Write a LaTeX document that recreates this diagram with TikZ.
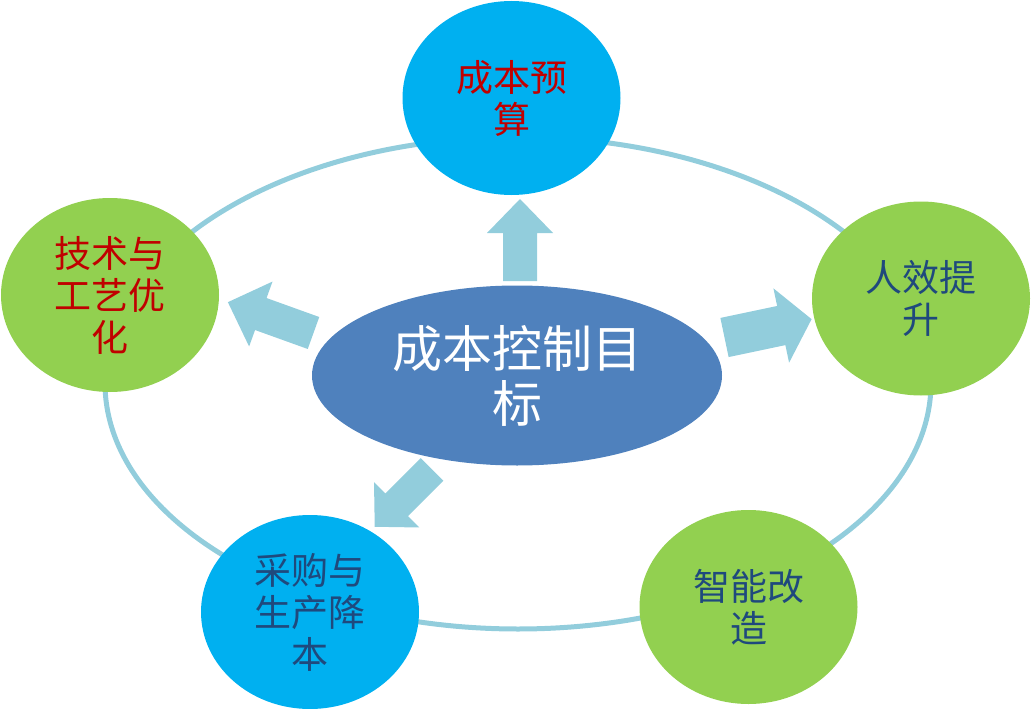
\documentclass[tikz,border=0pt]{standalone}
\usepackage{fontspec}
\usetikzlibrary{shapes.geometric}
\setmainfont{Noto Sans CJK SC}
\definecolor{ringc}{HTML}{92CDDC}
\definecolor{cyanc}{HTML}{00B0F0}
\definecolor{greenc}{HTML}{92D050}
\definecolor{centerc}{HTML}{4F81BD}
\definecolor{redt}{HTML}{C00000}
\definecolor{bluet}{HTML}{1F497D}
\begin{document}
\begin{tikzpicture}[x=1pt,y=-1pt,
  bubble/.style={ellipse,minimum width=218pt,minimum height=194pt,inner sep=0pt,align=center,
    font=\fontsize{37}{42}\selectfont},
  cyanb/.style={bubble,fill=cyanc},
  greenb/.style={bubble,fill=greenc},
  blockarrow/.style={fill=ringc,draw=none}]
\useasboundingbox (0,0) rectangle (1031,709);
% ring
\coordinate (ringc) at (518,383);
\draw[ringc,line width=5pt] (ringc) ellipse [x radius=413, y radius=246];
% outer bubbles
\node[cyanb,text=redt] (top) at (511.5,98) {成本预\\算};
\node[greenb,text=redt] (left) at (110,295) {技术与\\工艺优\\化};
\node[greenb,text=bluet] (right) at (921,298.5) {人效提\\升};
\node[greenb,text=bluet] (br) at (748.5,607) {智能改\\造};
\node[cyanb,text=bluet] (bl) at (310,612) {采购与\\生产降\\本};
% center
\node[ellipse,fill=centerc,minimum width=410pt,minimum height=180pt,inner sep=0pt,align=center,
  text=white,font=\fontsize{50}{55}\selectfont] (center) at (517,375.5) {成本控制目\\标};
% block arrows
\begin{scope}[shift={(520,281)},rotate=90]
  \fill[blockarrow] (0,-17) -- (48,-17) -- (48,-33) -- (82,0) -- (48,33) -- (48,17) -- (0,17) -- cycle;
\end{scope}
\begin{scope}[shift={(313.5,333)},rotate=160.2]
  \fill[blockarrow] (0,-17) -- (56,-17) -- (56,-34.5) -- (91,0) -- (56,34.5) -- (56,17) -- (0,17) -- cycle;
\end{scope}
\begin{scope}[shift={(724.5,337.5)},rotate=11.9]
  \fill[blockarrow] (0,-20) -- (58,-20) -- (58,-38) -- (89,0) -- (58,38) -- (58,20) -- (0,20) -- cycle;
\end{scope}
\begin{scope}[shift={(432,469.5)},rotate=225]
  \fill[blockarrow] (0,-16) -- (50,-16) -- (50,-32) -- (81,0) -- (50,32) -- (50,16) -- (0,16) -- cycle;
\end{scope}
\end{tikzpicture}
\end{document}
